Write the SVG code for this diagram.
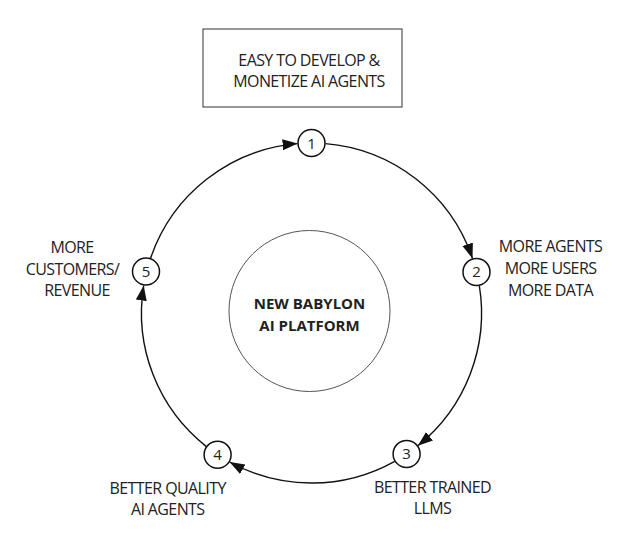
<svg xmlns="http://www.w3.org/2000/svg" width="617" height="545" viewBox="0 0 617 545">
<style>
text{font-family:"Open Sans","Liberation Sans",sans-serif;font-size:16px;letter-spacing:-0.6px;fill:#222;text-anchor:middle}
.b{font-weight:bold;font-size:15px;letter-spacing:0}
.num{font-size:15px;letter-spacing:0}
.node{fill:#fff;stroke:#111;stroke-width:1.5}
.arc{fill:none;stroke:#111;stroke-width:1.4;marker-end:url(#ah)}
</style>
<defs>
<marker id="ah" markerUnits="userSpaceOnUse" markerWidth="16" markerHeight="12" refX="15" refY="5.5" orient="auto">
<path d="M0,0 L15,5.5 L0,11 z" fill="#111"/>
</marker>
</defs>
<rect width="617" height="545" fill="#fff"/>
<g id="goal">
<rect x="203" y="29" width="199" height="78" fill="#fff" stroke="#333" stroke-width="1"/>
<text x="309" y="65.5">EASY TO DEVELOP &amp;</text>
<text x="309" y="86.5">MONETIZE AI AGENTS</text>
</g>
<g id="connectors">
<path class="arc" d="M325.4,143.6 A170,170 0 0 1 472.5,258.5"/>
<path class="arc" d="M479.3,285.5 A170,170 0 0 1 417.8,445.7"/>
<path class="arc" d="M394.7,461.3 A170,170 0 0 1 229.6,462.0"/>
<path class="arc" d="M206.4,446.6 A170,170 0 0 1 143.7,285.5"/>
<path class="arc" d="M150.5,258.5 A170,170 0 0 1 297.6,143.6"/>
</g>
<g id="platform">
<circle cx="309.5" cy="311" r="80.5" fill="#fff" stroke="#555" stroke-width="1"/>
<text class="b" x="309.5" y="309">NEW BABYLON</text>
<text class="b" x="309.5" y="331">AI PLATFORM</text>
</g>
<g id="n1">
<circle class="node" cx="311.5" cy="143" r="13.5"/>
<text class="num" x="311.5" y="148.5">1</text>
</g>
<g id="n2">
<circle class="node" cx="476.5" cy="271.9" r="13.5"/>
<text class="num" x="476.5" y="277.4">2</text>
<text x="550.5" y="252.3">MORE AGENTS</text>
<text x="550.5" y="274">MORE USERS</text>
<text x="550.5" y="295.5">MORE DATA</text>
</g>
<g id="n3">
<circle class="node" cx="406.6" cy="453.9" r="13.5"/>
<text class="num" x="406.6" y="459.4">3</text>
<text x="432.5" y="493">BETTER TRAINED</text>
<text x="432.5" y="514">LLMS</text>
</g>
<g id="n4">
<circle class="node" cx="217.6" cy="454.7" r="13.5"/>
<text class="num" x="217.6" y="460.2">4</text>
<text x="167.7" y="493.5">BETTER QUALITY</text>
<text x="167.7" y="514.5">AI AGENTS</text>
</g>
<g id="n5">
<circle class="node" cx="146" cy="271.5" r="13.5"/>
<text class="num" x="146" y="277">5</text>
<text x="72" y="253.3">MORE</text>
<text x="72.5" y="274.8">CUSTOMERS/</text>
<text x="77" y="296.3">REVENUE</text>
</g>
</svg>
